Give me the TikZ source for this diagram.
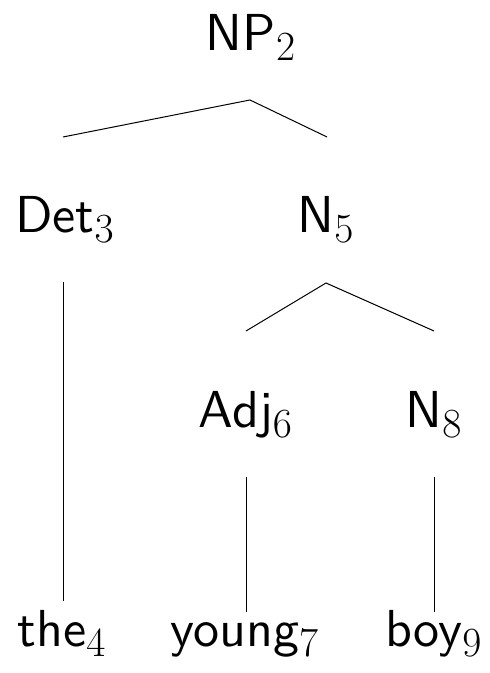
\documentclass[tikz,border=0pt]{standalone}
\usepackage{fontspec}
\setsansfont{lmsans10-regular.otf}
\usepackage{tikz}
\DeclareMathSizes{26}{26}{19.5}{14}

\begin{document}
\begin{tikzpicture}[x=25pt,y=25pt,
    cat/.style={anchor=base,inner sep=0pt,font=\fontsize{26}{30}\selectfont\sffamily},
    branch/.style={line width=0.5pt}]
    \useasboundingbox (0,0) rectangle (9.78,13.46);
    % labels
    \node[cat] (np)    at (5.02,12.44) {NP$_2$};
    \node[cat] (det)   at (1.30,8.80)  {Det$_3$};
    \node[cat] (nfive) at (6.52,8.80)  {N$_5$};
    \node[cat] (adj)   at (4.92,4.90)  {Adj$_6$};
    \node[cat] (neight) at (8.68,4.90) {N$_8$};
    \node[cat] (the)   at (1.24,0.52)  {the$_4$};
    \node[cat] (young) at (4.90,0.52)  {young$_7$};
    \node[cat] (boy)   at (8.68,0.52)  {boy$_9$};
    % branch ends
    \coordinate (np-b)    at (5.00,11.46);
    \coordinate (det-t)   at (1.26,10.72);
    \coordinate (nfive-t) at (6.54,10.72);
    \coordinate (det-b)   at (1.26,7.82);
    \coordinate (the-t)   at (1.26,1.44);
    \coordinate (nfive-b) at (6.52,7.80);
    \coordinate (adj-t)   at (4.92,6.84);
    \coordinate (neight-t) at (8.68,6.84);
    \coordinate (adj-b)   at (4.92,3.92);
    \coordinate (young-t) at (4.92,1.22);
    \coordinate (neight-b) at (8.68,3.92);
    \coordinate (boy-t)   at (8.68,1.22);
    % branches
    \draw[branch] (det-t) -- (np-b) -- (nfive-t);
    \draw[branch] (det-b) -- (the-t);
    \draw[branch] (adj-t) -- (nfive-b) -- (neight-t);
    \draw[branch] (adj-b) -- (young-t);
    \draw[branch] (neight-b) -- (boy-t);
\end{tikzpicture}
\end{document}
